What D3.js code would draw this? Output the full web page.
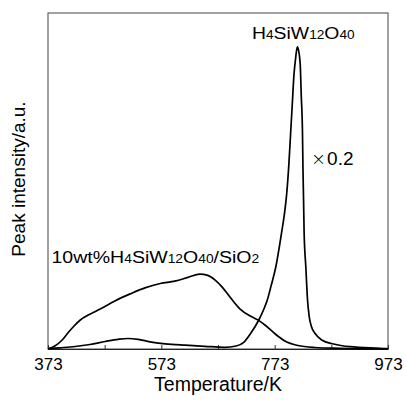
<!DOCTYPE html>
<html><head><meta charset="utf-8">
<script src="https://cdn.jsdelivr.net/npm/d3@7"></script>
<style>
html,body{margin:0;padding:0;background:#fff;}
svg{display:block;font-family:"Liberation Sans",Arial,Helvetica,sans-serif;}
</style></head>
<body><svg id="c" width="406" height="402"></svg>
<script>
// Temperature (K) and peak intensity (a.u.)
const bulkT = [373,394,421,447,474,497,514,532,553,580,615,650,685,705,719,730,745,754,760,767,775,785,790,794,798,801,804,807,810,813,815,818,820,822,823,824,825,828,831,834,838,844,856,877,906,959,973];
const bulkV = [0.1,0.36,0.74,1.34,2.23,2.89,3.13,2.89,2.14,1.55,1.13,0.8,0.51,0.89,2.08,4.46,8.63,11.9,14.6,19.0,24.4,34.4,39.9,45.8,54.8,63.7,72.6,81.5,86.6,89.9,89.0,85.0,75.1,65.2,53.3,44.3,34.5,24.4,14.6,9.6,6.6,4.67,2.68,1.49,0.68,0.21,0.09];
const suppT = [373,385,398,408,419,430,444,465,491,518,544,571,597,620,641,655,668,680,694,712,730,744,758,774,791,814,844,888,973];
const suppV = [0,0.89,2.68,4.76,6.85,8.63,10.1,11.9,14.3,16.4,18.2,19.5,20.2,21.3,22.3,21.9,20.5,18.5,15.5,11.9,9.8,8.6,6.85,4.46,2.38,1.04,0.45,0.2,0];
const tickValues = [373,473,573,673,773,873,973];
const tickLabels = ["373","","573","","773","","973"];

const svg = d3.select("#c");
const L=48, R=388, T=13, B=349;
const x = d3.scaleLinear().domain([373,973]).range([L,R]);
const y = d3.scaleLinear().domain([0,100]).range([B,T]);

// frame
svg.append("rect").attr("x",L).attr("y",T).attr("width",R-L).attr("height",B-T)
  .attr("fill","none").attr("stroke","#555").attr("stroke-width",1.1);

// x axis (ticks pointing inward)
const ax = svg.append("g").attr("transform",`translate(0,${B})`)
  .call(d3.axisBottom(x).tickValues(tickValues).tickSizeInner(-4).tickSizeOuter(0)
    .tickFormat((d,i)=>tickLabels[i]));
ax.select(".domain").attr("stroke","#222").attr("stroke-width",1.2);
ax.selectAll(".tick line").attr("stroke","#333").attr("stroke-width",1);
ax.selectAll(".tick text").attr("y",21).attr("dy",0).attr("font-size",17)
  .attr("fill","#000").attr("font-family","Liberation Sans, Arial, sans-serif");

svg.append("text").attr("x",(L+R)/2).attr("y",391).attr("text-anchor","middle")
  .attr("font-size",19.5).text("Temperature/K");
svg.append("text").attr("transform",`translate(25,${(T+B)/2-2}) rotate(-90)`)
  .attr("text-anchor","middle").attr("font-size",19).text("Peak intensity/a.u.");

// curves
const line = d3.line().curve(d3.curveMonotoneX);
const bulkPts = bulkT.map((t,i)=>[x(t),y(bulkV[i])]);
const suppPts = suppT.map((t,i)=>[x(t),y(suppV[i])]);
svg.append("path").attr("d",line(suppPts)).attr("fill","none").attr("stroke","#000").attr("stroke-width",1.7);
svg.append("path").attr("d",line(bulkPts)).attr("fill","none").attr("stroke","#000").attr("stroke-width",1.7);

// annotations with subscripts
function formula(px,py,parts,sx){
  const t = svg.append("text").attr("transform",`translate(${px},${py}) scale(${sx},1)`);
  parts.forEach(p=>{
    const isSub = /^[0-9]+$/.test(p) ;
    t.append("tspan").attr("font-size", isSub?12:17).text(p);
  });
  return t;
}
formula(252,38.5,["H","4","SiW","12","O","40"],1.14);
formula(51.5,262.5,["10wt%H","4","SiW","12","O","40","/SiO","2"],1.15);
const xt = svg.append("text").attr("x",311).attr("y",165).attr("font-size",19);
xt.append("tspan").attr("font-weight",300).attr("font-family","DejaVu Sans").attr("font-size",18).text("×");
xt.append("tspan").attr("dx",1).attr("font-size",19).text("0.2");
</script></body></html>
